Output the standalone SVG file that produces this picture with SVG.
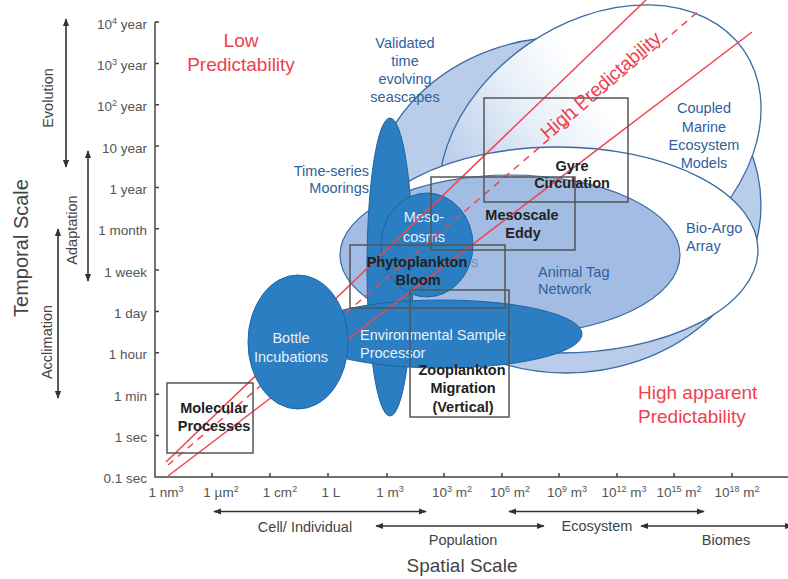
<svg xmlns="http://www.w3.org/2000/svg" width="788" height="579" viewBox="0 0 788 579">
<defs>
<style>
text{font-family:"Liberation Sans",Arial,Helvetica,sans-serif}
.tk{font-size:13.5px;fill:#555}
.tkm{font-size:13.5px;fill:#555;text-anchor:middle}
.ttl{font-size:19px;fill:#444}
.sc{font-size:14.5px;fill:#444;text-anchor:middle}
.red{font-size:19px;fill:#ef3f4f}
.blu{font-size:14.5px;fill:#2f5f9e;text-anchor:middle}
.wht{font-size:14.5px;fill:#e8f0fa}
.box{fill:none;stroke:#555;stroke-width:1.5}
.bt{font-size:14.5px;font-weight:bold;fill:#222;text-anchor:middle}
.ax{stroke:#444;stroke-width:1.5;fill:none}
.arr{stroke:#333;stroke-width:1.6;fill:none;marker-start:url(#ah);marker-end:url(#ah)}
.pl{fill:#b9cdea;stroke:#3a6aa3;stroke-width:1.3}
.dk{fill:#2b7ec1;stroke:#1f65a3;stroke-width:1}
.rl{stroke:#f0454f;stroke-width:1.5;fill:none}
</style>
<marker id="ah" viewBox="0 0 10 10" refX="9" refY="5" markerWidth="8" markerHeight="8" markerUnits="userSpaceOnUse" orient="auto-start-reverse"><path d="M0,1 L10,5 L0,9 z" fill="#333"/></marker>
<linearGradient id="gB" gradientUnits="userSpaceOnUse" x1="472.6" y1="79" x2="630.7" y2="80"><stop offset="0" stop-color="#bccfeb"/><stop offset="0.55" stop-color="#e6eef8"/><stop offset="1" stop-color="#ffffff"/></linearGradient>
</defs>

<g id="axes">
<path class="ax" d="M155,22 V477 H788"/>
<path class="ax" d="M155,22 h4 M155,63.4 h4 M155,104.7 h4 M155,146.1 h4 M155,187.4 h4 M155,228.8 h4 M155,270.1 h4 M155,311.5 h4 M155,352.8 h4 M155,394.2 h4 M155,435.5 h4"/>
<path class="ax" d="M212,477 v-4 M270,477 v-4 M328,477 v-4 M387,477 v-4 M444,477 v-4 M502,477 v-4 M559,477 v-4 M617,477 v-4 M674,477 v-4 M732,477 v-4"/>
<g class="tk" text-anchor="end">
<text x="147" y="29">10<tspan font-size="9" dy="-5">4</tspan><tspan dy="5"> year</tspan></text>
<text x="147" y="70">10<tspan font-size="9" dy="-5">3</tspan><tspan dy="5"> year</tspan></text>
<text x="147" y="111">10<tspan font-size="9" dy="-5">2</tspan><tspan dy="5"> year</tspan></text>
<text x="147" y="152.5">10 year</text>
<text x="147" y="194">1 year</text>
<text x="147" y="235">1 month</text>
<text x="147" y="276.5">1 week</text>
<text x="147" y="317.5">1 day</text>
<text x="147" y="359">1 hour</text>
<text x="147" y="400.5">1 min</text>
<text x="147" y="441.5">1 sec</text>
<text x="147" y="483">0.1 sec</text>
</g>
<g class="tkm">
<text x="166" y="497">1 nm<tspan font-size="9" dy="-5">3</tspan></text>
<text x="221" y="497">1 µm<tspan font-size="9" dy="-5">2</tspan></text>
<text x="280" y="497">1 cm<tspan font-size="9" dy="-5">2</tspan></text>
<text x="331" y="497">1 L</text>
<text x="390" y="497">1 m<tspan font-size="9" dy="-5">3</tspan></text>
<text x="452" y="497">10<tspan font-size="9" dy="-5">3</tspan><tspan dy="5"> m</tspan><tspan font-size="9" dy="-5">2</tspan></text>
<text x="510" y="497">10<tspan font-size="9" dy="-5">6</tspan><tspan dy="5"> m</tspan><tspan font-size="9" dy="-5">2</tspan></text>
<text x="567" y="497">10<tspan font-size="9" dy="-5">9</tspan><tspan dy="5"> m</tspan><tspan font-size="9" dy="-5">3</tspan></text>
<text x="624" y="497">10<tspan font-size="9" dy="-5">12</tspan><tspan dy="5"> m</tspan><tspan font-size="9" dy="-5">3</tspan></text>
<text x="679" y="497">10<tspan font-size="9" dy="-5">15</tspan><tspan dy="5"> m</tspan><tspan font-size="9" dy="-5">2</tspan></text>
<text x="737" y="497">10<tspan font-size="9" dy="-5">18</tspan><tspan dy="5"> m</tspan><tspan font-size="9" dy="-5">2</tspan></text>
</g>
<text class="ttl" text-anchor="middle" transform="translate(28,248) rotate(-90)" style="font-size:20px">Temporal Scale</text>
<text class="ttl" x="462" y="572" text-anchor="middle">Spatial Scale</text>
</g>

<g id="scale-arrows">
<path class="arr" d="M66,19 V167"/>
<path class="arr" d="M88,151 V281"/>
<path class="arr" d="M58,229 V398"/>
<path class="arr" d="M214,511.5 H426"/>
<path class="arr" d="M376,526 H544"/>
<path class="arr" d="M509,511.5 H704"/>
<path class="arr" d="M641,526 H792"/>
</g>
<g id="scale-labels" class="sc">
<text transform="translate(53,98) rotate(-90)">Evolution</text>
<text transform="translate(77,230) rotate(-90)">Adaptation</text>
<text transform="translate(52,342) rotate(-90)">Acclimation</text>
<text x="305" y="532">Cell/ Individual</text>
<text x="463" y="545">Population</text>
<text x="597" y="531">Ecosystem</text>
<text x="726" y="545">Biomes</text>
</g>

<g id="seascapes">
<ellipse class="pl" cx="566" cy="205" rx="195" ry="168"/>
<text class="blu" x="405" y="48">Validated</text>
<text class="blu" x="405" y="66">time</text>
<text class="blu" x="405" y="84">evolving</text>
<text class="blu" x="405" y="102">seascapes</text>
</g>
<g id="ecosystem-models">
<ellipse cx="600" cy="150" rx="175" ry="128" transform="rotate(-35 600 150)" fill="url(#gB)" stroke="#3a6aa3" stroke-width="1.3"/>
<text class="blu" x="704" y="113">Coupled</text>
<text class="blu" x="704" y="132">Marine</text>
<text class="blu" x="704" y="150">Ecosystem</text>
<text class="blu" x="704" y="168">Models</text>
</g>
<g id="bio-argo">
<ellipse cx="558" cy="250" rx="200" ry="103" fill="#ffffff" stroke="#3a6aa3" stroke-width="1.3"/>
<text class="blu" x="686" y="233" style="text-anchor:start">Bio-Argo</text>
<text class="blu" x="686" y="251" style="text-anchor:start">Array</text>
</g>
<g id="animal-tag">
<ellipse cx="510" cy="255" rx="170" ry="80" fill="#a3bce3" stroke="#3a6aa3" stroke-width="1.2"/>
<text class="blu" x="538" y="277" style="text-anchor:start">Animal Tag</text>
<text class="blu" x="538" y="294" style="text-anchor:start">Network</text>
</g>
<g id="moorings">
<text class="blu" x="369" y="176" style="text-anchor:end">Time-series</text>
<text class="blu" x="369" y="193" style="text-anchor:end">Moorings</text>
<ellipse class="dk" cx="390" cy="267" rx="23" ry="149"/>
</g>
<g id="mesocosms">
<ellipse class="dk" cx="427" cy="245" rx="46" ry="52"/>
<text class="wht" x="424" y="222" text-anchor="middle">Meso-</text>
<text class="wht" x="424" y="242" text-anchor="middle">cosms</text>
</g>
<g id="esp">
<ellipse class="dk" cx="442" cy="334" rx="140" ry="34"/>
<text class="wht" x="360" y="340">Environmental Sample</text>
<text class="wht" x="360" y="358">Processor</text>
</g>

<g id="connectors">
<path class="rl" d="M166,462 L646,0"/>
<path class="rl" d="M168,476 L752,32"/>
<path class="rl" d="M168,465 L700,10" stroke-dasharray="7 6"/>
</g>

<g id="bottle">
<ellipse class="dk" cx="298" cy="342" rx="50" ry="67"/>
<text class="wht" x="291" y="343" text-anchor="middle">Bottle</text>
<text class="wht" x="291" y="362" text-anchor="middle">Incubations</text>
</g>

<g id="molecular">
<rect class="box" x="167" y="383" width="86" height="70"/>
<text class="bt" x="214" y="413">Molecular</text>
<text class="bt" x="214" y="431">Processes</text>
</g>
<g id="gyre">
<rect class="box" x="484" y="98" width="144" height="104"/>
<text class="bt" x="572" y="171">Gyre</text>
<text class="bt" x="572" y="188">Circulation</text>
</g>
<g id="mesoscale">
<rect class="box" x="431" y="177" width="144" height="73"/>
<text class="bt" x="522" y="220">Mesoscale</text>
<text class="bt" x="523" y="238">Eddy</text>
</g>
<g id="phytoplankton">
<rect class="box" x="350" y="245" width="155" height="63"/>
<text class="bt" x="417" y="267">Phytoplankton</text>
<text x="471" y="267" font-size="14.5" fill="#6f8fc6">s</text>
<text class="bt" x="418" y="285">Bloom</text>
</g>
<g id="zooplankton">
<rect class="box" x="410" y="290" width="99" height="127"/>
<text class="bt" x="462" y="375">Zooplankton</text>
<text class="bt" x="463" y="393">Migration</text>
<text class="bt" x="463" y="412">(Vertical)</text>
</g>

<g id="predictability-labels" class="red">
<text x="241" y="47" text-anchor="middle">Low</text>
<text x="241" y="71" text-anchor="middle">Predictability</text>
<text x="638" y="399">High apparent</text>
<text x="638" y="423">Predictability</text>
<text text-anchor="middle" transform="translate(605,90) rotate(-41)">High Predictability</text>
</g>
</svg>
